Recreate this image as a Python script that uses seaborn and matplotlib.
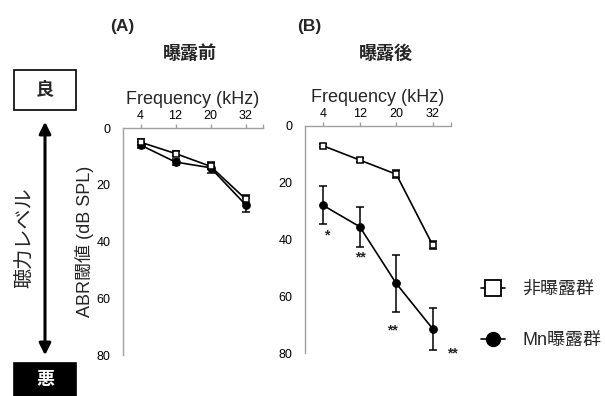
import matplotlib
matplotlib.use('Agg')
import matplotlib.pyplot as plt
import seaborn as sns
import numpy as np
import pandas as pd
from matplotlib.lines import Line2D
from matplotlib.patches import FancyArrowPatch, Rectangle

# ---------------- data ----------------
freqs = ['4', '12', '20', '32']
yticks = [0, 20, 40, 60, 80]

pre_ctrl = [5, 9, 13.5, 25]
pre_ctrl_err = [1.0, 1.0, 1.0, 1.5]
pre_mn = [6, 12, 14, 27]
pre_mn_err = [1.0, 1.0, 2.0, 2.5]

post_ctrl = [7, 12, 17, 42]
post_ctrl_err = [0.5, 0.8, 1.5, 1.5]
post_mn = [28, 35.5, 55.5, 71.5]
post_mn_err = [6.7, 7.0, 10.0, 7.5]

stars_B = ['*', '**', '**', '**']
stars_B_x = [0.1, 1.02, 1.9, 3.55]
stars_B_y = [38.5, 46.5, 72.0, 80.0]

label_ctrl = '非曝露群'
label_mn = 'Mn曝露群'

sns.set_theme(style='white')
plt.rcParams['font.family'] = ['Liberation Sans', 'Noto Sans CJK JP']

W, H = 605, 396
fig = plt.figure(figsize=(W / 100, H / 100), dpi=100)

def fx(px):
    return px / W

def fy(py):
    return 1 - py / H

axA = fig.add_axes([fx(123), fy(355), fx(140), 227 / H])
axB = fig.add_axes([fx(305), fy(353), fx(146), 227 / H])

grey = '#a0a0a0'

def draw(ax, ctrl, ctrl_err, mn, mn_err):
    pos = np.arange(len(freqs))
    df_mn = pd.DataFrame({'pos': pos, 'val': mn})
    df_ctrl = pd.DataFrame({'pos': pos, 'val': ctrl})
    ax.errorbar(pos, mn, yerr=mn_err, fmt='none', ecolor='black',
                elinewidth=1.1, capsize=3.2, capthick=1.1, zorder=2)
    ax.errorbar(pos, ctrl, yerr=ctrl_err, fmt='none', ecolor='black',
                elinewidth=1.1, capsize=3.2, capthick=1.1, zorder=2)
    sns.lineplot(data=df_mn, x='pos', y='val', ax=ax, color='black',
                 marker='o', markersize=5.5, markeredgecolor='black',
                 markerfacecolor='black', linewidth=1.2, zorder=3)
    sns.lineplot(data=df_ctrl, x='pos', y='val', ax=ax, color='black',
                 marker='s', markersize=5, markeredgecolor='black',
                 markerfacecolor='white', markeredgewidth=1.1,
                 linewidth=1.2, zorder=4)
    ax.set_xlim(-0.5, 3.5)
    ax.set_ylim(80, 0)
    ax.set_yticks(yticks)
    ax.set_xticks(pos)
    ax.set_xticklabels(freqs)
    ax.xaxis.tick_top()
    ax.xaxis.set_label_position('top')
    ax.set_xlabel('Frequency (kHz)', fontsize=13, labelpad=4.5)
    ax.set_ylabel('')
    for s in ['right', 'bottom']:
        ax.spines[s].set_visible(False)
    for s in ['top', 'left']:
        ax.spines[s].set_color(grey)
        ax.spines[s].set_linewidth(1.0)
    ax.tick_params(axis='both', which='major', direction='out', length=3,
                   width=1.0, color=grey, labelsize=9, pad=1.5,
                   labelcolor='black')
    ax.tick_params(axis='y', length=4, pad=5)
    ax.set_xticks([3.5], minor=True)
    ax.tick_params(axis='x', which='minor', direction='out', length=3,
                   width=1.0, color=grey, top=True, bottom=False)
    ax.patch.set_alpha(0)

draw(axA, pre_ctrl, pre_ctrl_err, pre_mn, pre_mn_err)
draw(axB, post_ctrl, post_ctrl_err, post_mn, post_mn_err)

axA.set_ylabel('ABR閾値 (dB SPL)', fontsize=13, labelpad=2)

for s, x, y in zip(stars_B, stars_B_x, stars_B_y):
    axB.text(x, y, s, ha='center', va='center', fontsize=10,
             fontweight='bold', clip_on=False)

# panel labels and titles
fig.text(fx(110), fy(26), '(A)', fontsize=12.5, fontweight='bold',
         ha='left', va='center')
fig.text(fx(297), fy(26), '(B)', fontsize=12.5, fontweight='bold',
         ha='left', va='center')
fig.text(fx(190), fy(54), '曝露前', fontsize=13, fontweight='bold',
         ha='center', va='center')
fig.text(fx(386), fy(54), '曝露後', fontsize=13, fontweight='bold',
         ha='center', va='center')

# left hearing-level indicator
fig.add_artist(Rectangle((fx(14), fy(110)), fx(62), (110 - 70) / H,
                         transform=fig.transFigure, facecolor='white',
                         edgecolor='black', linewidth=1.2))
fig.text(fx(45), fy(90), '良', fontsize=13, fontweight='bold',
         ha='center', va='center')
fig.add_artist(Rectangle((fx(14), 0), fx(62), (396 - 363) / H,
                         transform=fig.transFigure, facecolor='black',
                         edgecolor='black', linewidth=1.2))
fig.text(fx(45), fy(381), '悪', fontsize=13, fontweight='bold',
         ha='center', va='center', color='white')
fig.add_artist(FancyArrowPatch((fx(45), fy(119)), (fx(45), fy(358)),
                               transform=fig.transFigure,
                               arrowstyle='<|-|>,head_length=7,head_width=3.5',
                               mutation_scale=1, linewidth=2.2,
                               color='black'))
fig.text(fx(26), fy(238), '聴力レベル', fontsize=14.5, rotation=90,
         ha='center', va='center')

# legend
handles = [
    Line2D([], [], color='black', linewidth=1.2, marker='s', markersize=11,
           markerfacecolor='white', markeredgecolor='black',
           markeredgewidth=1.3),
    Line2D([], [], color='black', linewidth=1.2, marker='o', markersize=10,
           markerfacecolor='black', markeredgecolor='black'),
]
fig.legend(handles, [label_ctrl, label_mn], loc='center left',
           bbox_to_anchor=(fx(465), fy(315)), frameon=False, fontsize=13,
           handlelength=1.3, handletextpad=1.0, labelspacing=1.9)

fig.savefig('out.png', dpi=100)
